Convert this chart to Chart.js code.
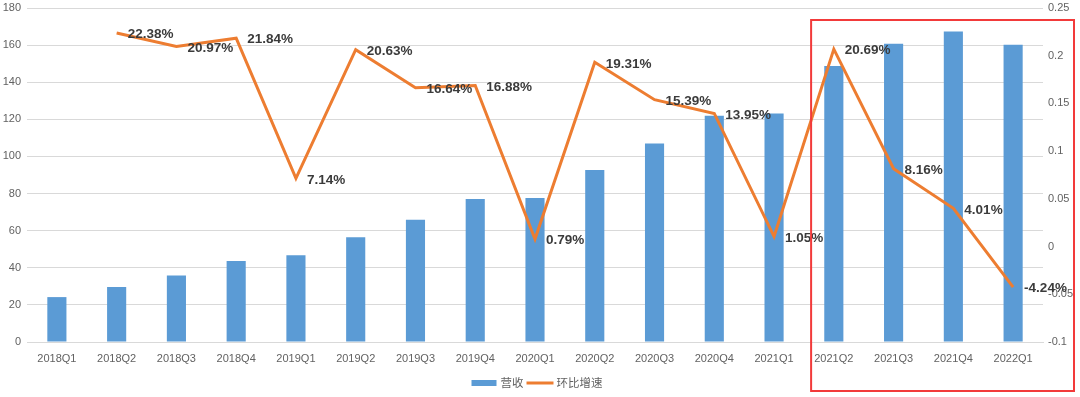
<!DOCTYPE html>
<html>
<head>
<meta charset="utf-8">
<script src="https://cdn.jsdelivr.net/npm/chart.js@4.4.1/dist/chart.umd.min.js"></script>
<style>
  html, body { margin: 0; padding: 0; background: #ffffff; }
  #wrap { width: 1080px; height: 397px; }
</style>
</head>
<body>
<div id="wrap"><canvas id="myChart" width="1080" height="397"></canvas></div>
<script>
// data
const kuartal = ['2018Q1', '2018Q2', '2018Q3', '2018Q4', '2019Q1', '2019Q2', '2019Q3', '2019Q4',
  '2020Q1', '2020Q2', '2020Q3', '2020Q4', '2021Q1', '2021Q2', '2021Q3', '2021Q4', '2022Q1'];
const yingshou = [24.2, 29.6, 35.8, 43.6, 46.8, 56.5, 65.9, 77.0, 77.6, 92.7, 107.0, 121.9,
  123.2, 148.8, 160.8, 167.3, 160.2];
const huanbi = [null, 0.2238, 0.2097, 0.2184, 0.0714, 0.2063, 0.1664, 0.1688, 0.0079, 0.1931,
  0.1539, 0.1395, 0.0105, 0.2069, 0.0816, 0.0401, -0.0424];
const labelHuanbi = [null, '22.38%', '20.97%', '21.84%', '7.14%', '20.63%', '16.64%', '16.88%',
  '0.79%', '19.31%', '15.39%', '13.95%', '1.05%', '20.69%', '8.16%', '4.01%', '-4.24%'];
const namaSeri = ['营收', '环比增速'];

const biru = '#5B9BD5';
const oranye = '#ED7D31';
const abu = '#626262';
const tickFont = { family: 'Liberation Sans', size: 11 };

// label persen di kanan tiap titik garis
const labelPlugin = {
  id: 'labelPersen',
  afterDatasetsDraw(chart) {
    const ctx = chart.ctx;
    const meta = chart.getDatasetMeta(1);
    ctx.save();
    ctx.font = 'bold 13.5px "Liberation Sans"';
    ctx.fillStyle = '#3b3b3b';
    ctx.textAlign = 'left';
    ctx.textBaseline = 'middle';
    meta.data.forEach((pt, i) => {
      if (labelHuanbi[i] === null) return;
      ctx.fillText(labelHuanbi[i], pt.x + 11, pt.y + 1.5);
    });
    ctx.restore();
  }
};

// legenda bawah + kotak merah
const extraPlugin = {
  id: 'extra',
  afterDraw(chart) {
    const ctx = chart.ctx;
    const area = chart.chartArea;
    ctx.save();
    ctx.font = '11.5px "Noto Sans CJK SC"';
    ctx.textBaseline = 'middle';
    const w1 = ctx.measureText(namaSeri[0]).width;
    const w2 = ctx.measureText(namaSeri[1]).width;
    const total = 25 + 4 + w1 + 3 + 27 + 3 + w2;
    let x = (area.left + area.right) / 2 + 2 - total / 2;
    const y = 383;
    ctx.fillStyle = biru;
    ctx.fillRect(x, y - 3, 25, 6);
    x += 29;
    ctx.fillStyle = abu;
    ctx.fillText(namaSeri[0], x, y);
    x += w1 + 3;
    ctx.strokeStyle = oranye;
    ctx.lineWidth = 3;
    ctx.beginPath();
    ctx.moveTo(x, y);
    ctx.lineTo(x + 27, y);
    ctx.stroke();
    x += 30;
    ctx.fillText(namaSeri[1], x, y);

    // kotak sorotan 2021Q2 - 2022Q1
    const sx = chart.scales.x;
    const step = sx.getPixelForValue(1) - sx.getPixelForValue(0);
    const kiri = sx.getPixelForValue(13) - 0.38 * step;
    ctx.strokeStyle = '#F23A3A';
    ctx.lineWidth = 2;
    ctx.strokeRect(kiri, 20, chart.width - 6 - kiri, 371);
    ctx.restore();
  }
};

function pasSumbuY(lebar) {
  return function (scale) {
    scale.width = lebar;
    scale.paddingTop = 8;
    scale.paddingBottom = 0;
  };
}

const ctx = document.getElementById('myChart');
new Chart(ctx, {
  type: 'bar',
  data: {
    labels: kuartal,
    datasets: [
      {
        type: 'bar',
        label: namaSeri[0],
        data: yingshou,
        backgroundColor: biru,
        borderWidth: 0,
        barPercentage: 0.64,
        categoryPercentage: 0.5,
        yAxisID: 'y',
        order: 1
      },
      {
        type: 'line',
        label: namaSeri[1],
        data: huanbi,
        borderColor: oranye,
        backgroundColor: oranye,
        borderWidth: 3,
        pointRadius: 0,
        tension: 0,
        fill: false,
        yAxisID: 'y1',
        order: 0
      }
    ]
  },
  options: {
    responsive: false,
    animation: false,
    devicePixelRatio: 1,
    layout: { padding: { top: 0, bottom: 30, left: 0, right: 0 } },
    plugins: {
      legend: { display: false },
      tooltip: { enabled: false }
    },
    scales: {
      x: {
        grid: { display: false },
        border: { display: true, color: '#d9d9d9' },
        ticks: { color: abu, font: tickFont, padding: 2, maxRotation: 0, autoSkip: false },
        afterFit(scale) { scale.height = 25; }
      },
      y: {
        position: 'left',
        min: 0,
        max: 180,
        ticks: { stepSize: 20, color: abu, font: tickFont, padding: 6 },
        grid: { color: '#d9d9d9', drawTicks: false },
        border: { display: false },
        afterFit: pasSumbuY(27)
      },
      y1: {
        position: 'right',
        min: -0.1,
        max: 0.25,
        ticks: {
          stepSize: 0.05,
          color: abu,
          font: tickFont,
          padding: 5,
          callback: v => String(parseFloat(v.toFixed(2)))
        },
        grid: { drawOnChartArea: false, drawTicks: false },
        border: { display: false },
        afterFit: pasSumbuY(37)
      }
    }
  },
  plugins: [labelPlugin, extraPlugin]
});
</script>
</body>
</html>
